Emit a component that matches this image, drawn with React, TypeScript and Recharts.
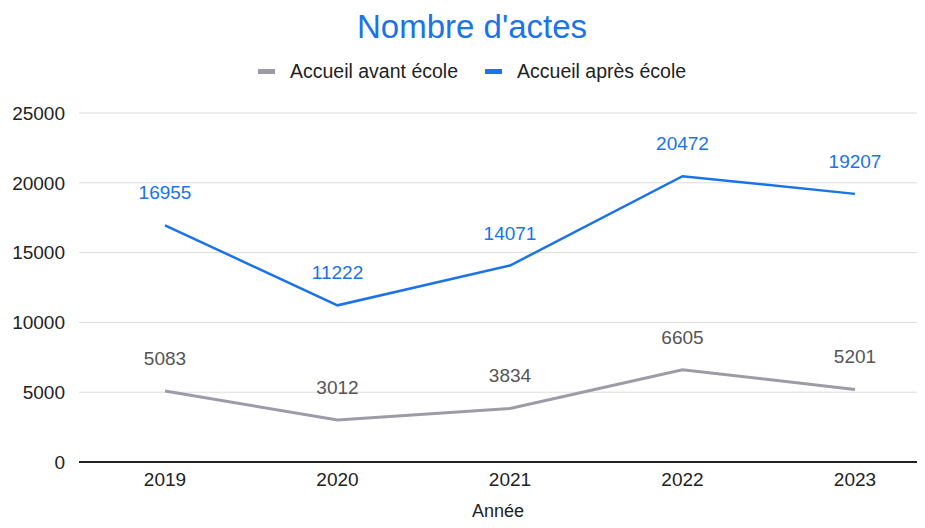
import React from "react";
import { LineChart, Line, XAxis, YAxis, CartesianGrid, LabelList } from "recharts";

const years = ["2019", "2020", "2021", "2022", "2023"];
const avantEcole = [5083, 3012, 3834, 6605, 5201];
const apresEcole = [16955, 11222, 14071, 20472, 19207];
const yTicks = [0, 5000, 10000, 15000, 20000, 25000];

const data = years.map((y, i) => ({ year: y, avant: avantEcole[i], apres: apresEcole[i] }));

const FONT = "'Liberation Sans', Arial, sans-serif";
const BLUE = "#1a73e8";
const GRAY = "#9e9aa8";

export default function App() {
  return (
    <div style={{ position: "relative", margin: -8, width: 925, height: 528, overflow: "hidden", background: "#fff", fontFamily: FONT }}>
      <div style={{ position: "absolute", top: 8, left: 357, fontSize: 33, color: BLUE, whiteSpace: "nowrap" }}>
        Nombre d'actes
      </div>
      <div style={{ position: "absolute", top: 60, left: 258, display: "flex", alignItems: "center", fontSize: 19.5, color: "#222", whiteSpace: "nowrap" }}>
        <span style={{ display: "inline-block", width: 17, height: 5, background: GRAY, marginRight: 15 }} />
        <span style={{ marginRight: 27 }}>Accueil avant école</span>
        <span style={{ display: "inline-block", width: 17, height: 5, background: BLUE, marginRight: 15 }} />
        <span>Accueil après école</span>
      </div>
      <LineChart width={945} height={528} data={data} margin={{ top: 113, right: 4, bottom: 0, left: 0 }} style={{ position: "absolute", top: 0, left: 0 }}>
        <CartesianGrid horizontal vertical={false} stroke="#dcdcdc" />
        <XAxis
          dataKey="year"
          height={66}
          padding={{ left: 86, right: 86 }}
          tickLine={false}
          axisLine={{ stroke: "#222", strokeWidth: 2 }}
          tick={{ fill: "#222", fontSize: 19, fontFamily: FONT }}
          tickMargin={5}
          label={{ value: "Année", position: "insideBottom", offset: 11, dx: -12, fill: "#222", fontSize: 18, fontFamily: FONT }}
        />
        <YAxis
          width={79}
          domain={[0, 25000]}
          ticks={yTicks}
          tickLine={false}
          axisLine={false}
          tick={{ fill: "#222", fontSize: 19, fontFamily: FONT }}
          tickMargin={8}
        />
        <Line type="linear" dataKey="avant" stroke={GRAY} strokeWidth={3} dot={false} isAnimationActive={false}>
          <LabelList dataKey="avant" position="top" offset={26} fill="#555" fontSize={19} fontFamily={FONT} />
        </Line>
        <Line type="linear" dataKey="apres" stroke={BLUE} strokeWidth={2.5} dot={false} isAnimationActive={false}>
          <LabelList dataKey="apres" position="top" offset={26} fill={BLUE} fontSize={19} fontFamily={FONT} />
        </Line>
      </LineChart>
    </div>
  );
}
